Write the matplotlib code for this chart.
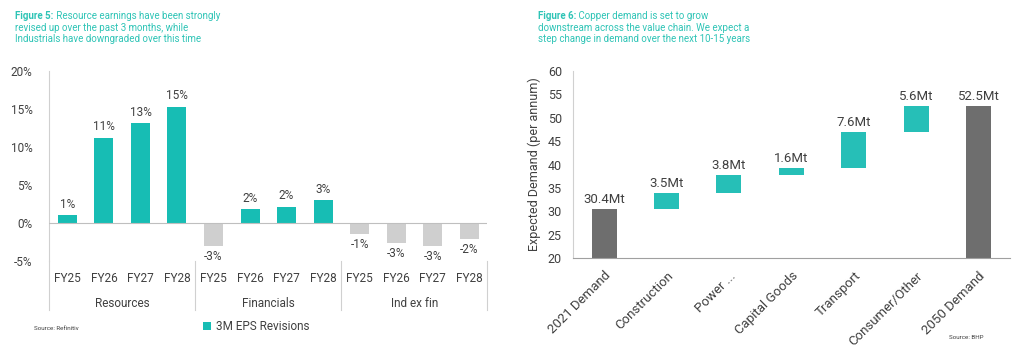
import matplotlib.pyplot as plt
import matplotlib.transforms as mtransforms

plt.rcParams['font.family'] = ['Roboto', 'DejaVu Sans']

# data for figure 5
groups = ['Resources', 'Financials', 'Ind ex fin']
years = ['FY25', 'FY26', 'FY27', 'FY28']
resources = [1.0, 11.2, 13.1, 15.3]
financials = [-3.1, 1.8, 2.1, 3.0]
ind_ex_fin = [-1.45, -2.7, -3.0, -2.15]

# data for figure 6
steps = ['2021 Demand', 'Construction', 'Power ...', 'Capital Goods',
         'Transport', 'Consumer/Other', '2050 Demand']
start_demand = 30.4
increments = [3.5, 3.8, 1.6, 7.6, 5.6]
end_demand = 52.5

teal = '#17BDB4'
teal2 = '#26BFB7'
light_grey = '#CFCFCF'
dark_grey = '#6E6E6E'
txt = '#404040'
title_col = '#2EC4B6'

fig = plt.figure(figsize=(10.24, 3.55), dpi=100)


def title_block(ax, x, bold, first, rest):
    """ bold lead-in followed by normal text, then extra lines """
    t = fig.text(x, 0.955, bold, fontsize=7, color=title_col,
                 va='center', fontweight='bold')
    ax.annotate(' ' + first, xy=(1, 0.5), xycoords=t, va='center',
                ha='left', fontsize=7, color=title_col,
                annotation_clip=False)
    for i, line in enumerate(rest):
        fig.text(x, 0.922 - 0.033 * i, line, fontsize=7, color=title_col,
                 va='center')


# ---------------- figure 5 ----------------
ax1 = fig.add_axes([0.048, 0.265, 0.428, 0.535])
vals = resources + financials + ind_ex_fin
xs = list(range(len(vals)))
cols = [teal if v >= 0 else light_grey for v in vals]
ax1.bar(xs, vals, width=0.52, color=cols, zorder=2)
for x, v in zip(xs, vals):
    if v >= 0:
        ax1.text(x, v + 0.6, '%.0f%%' % round(v), ha='center', va='bottom',
                 fontsize=8.5, color=txt)
    else:
        ax1.text(x, v - 0.5, '%.0f%%' % round(v), ha='center', va='top',
                 fontsize=8.5, color=txt)
ax1.set_xlim(-0.5, len(vals) - 0.5)
ax1.set_ylim(-5, 20)
ax1.set_yticks([-5, 0, 5, 10, 15, 20])
ax1.set_yticklabels(['-5%', '0%', '5%', '10%', '15%', '20%'])
ax1.tick_params(axis='y', length=0, labelsize=8.5, labelcolor=txt, pad=12)
ax1.set_xticks([])
ax1.axhline(0, color='#BFBFBF', lw=0.8, zorder=3)
for s in ['top', 'right', 'bottom']:
    ax1.spines[s].set_visible(False)
ax1.spines['left'].set_color('#D0D0D0')

trans = mtransforms.blended_transform_factory(ax1.transData, ax1.transAxes)
for i, x in enumerate(xs):
    ax1.text(x, -0.09, years[i % 4], transform=trans, ha='center',
             va='center', fontsize=8.5, color=txt)
for g, name in enumerate(groups):
    ax1.text(g * 4 + 1.5, -0.222, name, transform=trans, ha='center',
             va='center', fontsize=8.5, color=txt)
for d in [-0.5, 3.5, 7.5, 11.5]:
    ax1.plot([d, d], [0.0, -0.26], transform=trans, color='#D0D0D0',
             lw=0.8, clip_on=False)

ax1.bar([0], [0], color=teal, label='3M EPS Revisions')
fig.legend(loc='center', bbox_to_anchor=(0.25, 0.08), frameon=False,
           fontsize=8.5, handlelength=0.7, handleheight=0.7,
           handletextpad=0.4, labelcolor=txt)

fig.text(0.033, 0.07, 'Source: Refinitiv', fontsize=4.5, color=txt)

title_block(ax1, 0.015, 'Figure 5:', 'Resource earnings have been strongly',
            ['revised up over the past 3 months, while',
             'Industrials have downgraded over this time'])

# ---------------- figure 6 ----------------
ax2 = fig.add_axes([0.5596, 0.273, 0.4264, 0.527])
bottoms = [0]
heights = [start_demand]
level = start_demand
for inc in increments:
    bottoms.append(level)
    heights.append(inc)
    level += inc
bottoms.append(0)
heights.append(end_demand)
colors2 = [dark_grey] + [teal2] * len(increments) + [dark_grey]
pos = list(range(len(steps)))
ax2.bar(pos, heights, bottom=bottoms, width=0.4, color=colors2, zorder=2)
labels2 = [start_demand] + increments + [end_demand]
for p, b, h, lab in zip(pos, bottoms, heights, labels2):
    ax2.text(p, b + h + 0.7, '%.1fMt' % lab, ha='center', va='bottom',
             fontsize=9.5, color=txt)
ax2.set_xlim(-0.5, len(steps) - 0.5)
ax2.set_ylim(20, 60)
ax2.set_yticks(range(20, 61, 5))
ax2.set_xticks(pos)
ax2.set_xticklabels(steps, rotation=45, ha='right', rotation_mode='anchor')
ax2.tick_params(axis='x', length=0, labelsize=9.5, labelcolor=txt, pad=8)
ax2.tick_params(axis='y', length=0, labelsize=9, labelcolor=txt, pad=8)
ax2.set_ylabel('Expected Demand (per annum)', fontsize=9, color=txt,
               labelpad=5)
for s in ['top', 'right']:
    ax2.spines[s].set_visible(False)
ax2.spines['left'].set_color('#D0D0D0')
ax2.spines['bottom'].set_color('#A0A0A0')

fig.text(0.927, 0.045, 'Source: BHP', fontsize=4.5, color=txt)

title_block(ax2, 0.525, 'Figure 6:', 'Copper demand is set to grow',
            ['downstream across the value chain. We expect a',
             'step change in demand over the next 10-15 years'])

plt.savefig('out.png', dpi=100)
